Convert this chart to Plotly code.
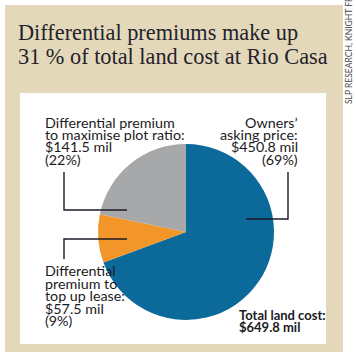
import plotly.graph_objects as go

# ---- data ----
slice_names = ["Owners' asking price", "Differential premium to top up lease",
               "Differential premium to maximise plot ratio"]
slice_values = [450.8, 57.5, 141.5]
slice_colors = ["#0c6a9b", "#f2962a", "#a7a8aa"]

title_lines = ["Differential premiums make up", "31 % of total land cost at Rio Casa"]
source_text = "SLP RESEARCH, KNIGHT FRANK"

label_plot = ["Differential premium", "to maximise plot ratio:", "$141.5 mil", "(22%)"]
label_owner = ["Owners\u2019", "asking price:", "$450.8 mil", "(69%)"]
label_lease = ["Differential", "premium to", "top up lease:", "$57.5 mil", "(9%)"]
label_total = ["Total land cost:", "$649.8 mil"]

W, H = 356, 360
BEIGE = "#e3d9ba"
INK = "#1c1a24"
LABEL_FONT = "Lato, Roboto, sans-serif"

fig = go.Figure()

# pie placed in pixel box: centre (186,232), radius 88
cx, cy, r = 186, 232, 88
fig.add_trace(go.Pie(
    values=slice_values, labels=slice_names, sort=False, direction="clockwise",
    rotation=0, marker=dict(colors=slice_colors, line=dict(width=0)),
    textinfo="none", hoverinfo="skip", showlegend=False,
    domain=dict(x=[(cx - r) / W, (cx + r) / W], y=[1 - (cy + r) / H, 1 - (cy - r) / H]),
))

shapes = [
    dict(type="rect", x0=5, y0=5, x1=343, y1=352, fillcolor=BEIGE, line=dict(width=0), layer="below"),
    dict(type="rect", x0=20, y0=93, x1=326, y1=344, fillcolor="white", line=dict(width=0), layer="below"),
]
lw = dict(color=INK, width=1.4)
leaders = [
    [(64, 172), (64, 210), (127, 210)],
    [(288, 172), (288, 219), (246, 219)],
    [(127, 239), (64, 239), (64, 259)],
]
for pts in leaders:
    path = "M " + " L ".join(f"{x},{y}" for x, y in pts)
    shapes.append(dict(type="path", path=path, line=lw, layer="above"))

annotations = []


def add_lines(lines, x, y0, step, size, align, bold=False, family=LABEL_FONT, color=INK):
    for i, t in enumerate(lines):
        txt = f"<b>{t}</b>" if bold else t
        annotations.append(dict(
            x=x, y=y0 + i * step - 0.35 * size, xref="x", yref="y", text=txt, showarrow=False,
            xanchor=align, yanchor="middle", align=align, borderpad=0,
            font=dict(family=family, size=size, color=color)))


add_lines(title_lines, 17, 40, 24, 22.3, "left", family="Liberation Serif, Times New Roman, serif", color="#241f2c")
add_lines(label_plot, 44, 127, 12.4, 14.3, "left")
add_lines(label_owner, 299, 127, 12.4, 14.3, "right")
add_lines(label_lease, 44, 275.5, 12.5, 14.3, "left")
add_lines(label_total, 238, 320, 11.8, 13, "left", bold=True)

annotations.append(dict(
    x=349, y=105, xref="x", yref="y", text=source_text, showarrow=False, textangle=-90,
    xanchor="center", yanchor="bottom", borderpad=0,
    font=dict(family=LABEL_FONT, size=8.5, color="#4a4a4a")))

fig.update_layout(
    width=W, height=H, margin=dict(l=0, r=0, t=0, b=0),
    paper_bgcolor="white", plot_bgcolor="rgba(0,0,0,0)",
    xaxis=dict(range=[0, W], visible=False, fixedrange=True, domain=[0, 1]),
    yaxis=dict(range=[H, 0], visible=False, fixedrange=True, domain=[0, 1]),
    shapes=shapes, annotations=annotations,
)

fig.write_html("out.html", config={"displayModeBar": False},
               post_script="document.body.style.margin='0';")
